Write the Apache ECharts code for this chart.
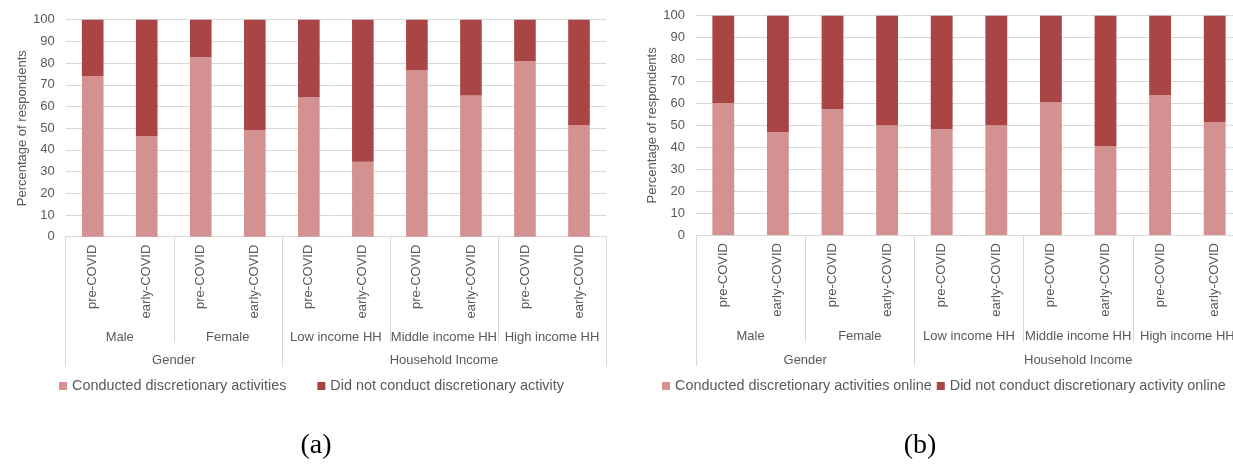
<!DOCTYPE html>
<html><head><meta charset="utf-8">
<script src="https://cdn.jsdelivr.net/npm/echarts@6/dist/echarts.min.js"></script>
<style>html,body{margin:0;padding:0;background:#fff;overflow:hidden}#c{width:1233px;height:465px}</style>
</head><body><div id="c"></div>
<script>
// ---- data ----
const categories = ['pre-COVID','early-COVID','pre-COVID','early-COVID','pre-COVID','early-COVID','pre-COVID','early-COVID','pre-COVID','early-COVID'];
const groups = ['Male','Female','Low income HH','Middle income HH','High income HH'];
const superGroups = ['Gender','Household Income'];
const superGroupSizes = [2, 3]; // number of groups in each super group

const seriesNamesA = ['Conducted discretionary activities','Did not conduct discretionary activity'];
const conductedA = [74.0, 46.3, 82.7, 49.0, 64.4, 34.5, 76.8, 65.1, 80.8, 51.5];
const notConductedA = [26.0, 53.7, 17.3, 51.0, 35.6, 65.5, 23.2, 34.9, 19.2, 48.5];

const seriesNamesB = ['Conducted discretionary activities online','Did not conduct discretionary activity online'];
const conductedB = [60.2, 46.8, 57.3, 50.0, 48.2, 50.0, 60.6, 40.6, 63.7, 51.5];
const notConductedB = [39.8, 53.2, 42.7, 50.0, 51.8, 50.0, 39.4, 59.4, 36.3, 48.5];

const yName = 'Percentage of respondents';
const panelLabels = ['(a)', '(b)'];

// ---- styling ----
const LIGHT = '#d39191';
const DARK = '#a94545';
const TXT = '#595959';
const GRID = '#d9d9d9';

// derived positions along the category axis (in category units)
const perGroup = categories.length / groups.length;
const groupBounds = groups.map((g, i) => i * perGroup).concat([categories.length]);
const groupCenters = groups.map((g, i) => i * perGroup + perGroup / 2);
const superBounds = [0];
superGroupSizes.forEach(s => superBounds.push(superBounds[superBounds.length - 1] + s * perGroup));
const superCenters = superGroupSizes.map((s, i) => (superBounds[i] + superBounds[i + 1]) / 2);

const grids = [
  {left: 65.7, top: 19.7, width: 540.3, height: 217, outerBoundsMode: 'none', containLabel: false},
  {left: 696, top: 15.7, width: 546, height: 219.3, outerBoundsMode: 'none', containLabel: false}
];
const tickLen1 = [106, 107];
const tickLen2 = [130, 131];
const lab1Margin = [94, 95];
const lab2Margin = [117, 119];

const xAxes = [], yAxes = [];
grids.forEach((g, gi) => {
  xAxes.push({
    type: 'category', gridIndex: gi, data: categories, position: 'bottom',
    axisLine: {show: true, lineStyle: {color: GRID, width: 1}},
    axisTick: {show: false},
    axisLabel: {rotate: 90, margin: 8, fontSize: 13, color: TXT, interval: 0}
  });
  xAxes.push({
    type: 'value', gridIndex: gi, min: 0, max: categories.length, position: 'bottom',
    axisLine: {show: false}, splitLine: {show: false},
    axisTick: {show: true, customValues: groupBounds, length: tickLen1[gi], lineStyle: {color: GRID, width: 1}},
    axisLabel: {customValues: groupCenters, margin: lab1Margin[gi], fontSize: 13, color: TXT,
      formatter: v => groups[Math.round((v - perGroup / 2) / perGroup)]}
  });
  xAxes.push({
    type: 'value', gridIndex: gi, min: 0, max: categories.length, position: 'bottom',
    axisLine: {show: false}, splitLine: {show: false},
    axisTick: {show: true, customValues: superBounds, length: tickLen2[gi], lineStyle: {color: GRID, width: 1}},
    axisLabel: {customValues: superCenters, margin: lab2Margin[gi], fontSize: 13, color: TXT,
      formatter: v => superGroups[superCenters.findIndex(c => Math.abs(c - v) < 0.01)]}
  });
  yAxes.push({
    type: 'value', gridIndex: gi, min: 0, max: 100, interval: 10,
    axisLine: {show: false}, axisTick: {show: false},
    splitLine: {show: true, lineStyle: {color: GRID, width: 1}},
    axisLabel: {margin: 11, fontSize: 13, color: TXT},
    name: yName, nameLocation: 'middle', nameGap: 37,
    nameTextStyle: {fontSize: 13, color: TXT}
  });
});

function bar(name, data, color, gi) {
  return {
    name, type: 'bar', stack: 's' + gi, data, xAxisIndex: gi * 3, yAxisIndex: gi,
    barWidth: '40%', itemStyle: {color}, emphasis: {disabled: true}
  };
}

const option = {
  animation: false,
  textStyle: {fontFamily: 'Liberation Sans, Arial, sans-serif'},
  grid: grids,
  xAxis: xAxes,
  yAxis: yAxes,
  legend: [
    {data: seriesNamesA, left: 59, top: 379, padding: 0, icon: 'rect', itemWidth: 8, itemHeight: 8, itemGap: 31,
     textStyle: {fontSize: 14.4, color: TXT}, selectedMode: false},
    {data: seriesNamesB, left: 662, top: 379, padding: 0, icon: 'rect', itemWidth: 8, itemHeight: 8, itemGap: 5,
     textStyle: {fontSize: 14.4, color: TXT}, selectedMode: false}
  ],
  series: [
    bar(seriesNamesA[0], conductedA, LIGHT, 0),
    bar(seriesNamesA[1], notConductedA, DARK, 0),
    bar(seriesNamesB[0], conductedB, LIGHT, 1),
    bar(seriesNamesB[1], notConductedB, DARK, 1)
  ],
  graphic: [
    {type: 'text', x: 316, y: 446, style: {text: panelLabels[0], font: '28px "Liberation Serif", serif', fill: '#000', align: 'center', verticalAlign: 'middle'}},
    {type: 'text', x: 920, y: 446, style: {text: panelLabels[1], font: '28px "Liberation Serif", serif', fill: '#000', align: 'center', verticalAlign: 'middle'}}
  ]
};
const chart = echarts.init(document.getElementById('c'), null, {renderer: 'canvas'});
chart.setOption(option);
</script>
</body></html>
